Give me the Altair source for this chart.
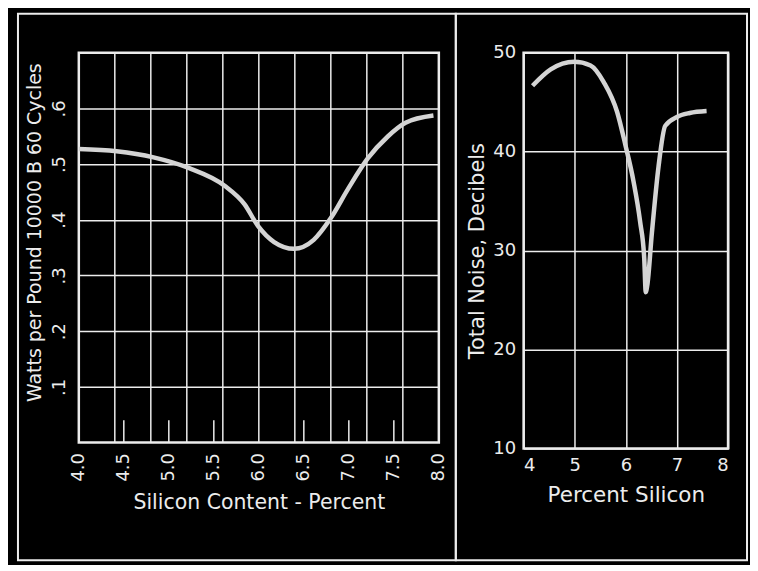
import altair as alt
import pandas as pd

# Left panel: core loss vs silicon content
loss_si = [4.0, 4.42, 4.83, 5.22, 5.62, 5.84, 5.99, 6.17, 6.39, 6.61, 6.80, 6.99, 7.21, 7.43, 7.63, 7.94]
loss_w = [0.527, 0.523, 0.512, 0.493, 0.461, 0.428, 0.389, 0.360, 0.348, 0.364, 0.403, 0.455, 0.510, 0.549, 0.574, 0.587]
left_grid_x = [4.4, 4.8, 5.2, 5.6, 6.0, 6.4, 6.8, 7.2, 7.6]
left_ticks = [4.0, 4.5, 5.0, 5.5, 6.0, 6.5, 7.0, 7.5, 8.0]
left_marks = [4.5, 5.0, 5.5, 6.5, 7.0, 7.5]
left_y_ticks = [0.1, 0.2, 0.3, 0.4, 0.5, 0.6]

# Right panel: total noise vs silicon
noise_si = [4.175, 4.53, 4.99, 5.31, 5.57, 5.83, 5.99, 6.15, 6.28, 6.36, 6.39, 6.42, 6.51, 6.64, 6.77, 7.00, 7.25, 7.58]
noise_db = [46.65, 48.3, 49.07, 48.7, 47.0, 44.0, 40.7, 37.0, 32.9, 29.2, 25.8, 26.5, 31.8, 38.5, 42.6, 43.5, 43.9, 44.1]
right_x_ticks = [4, 5, 6, 7, 8]
right_y_ticks = [10, 20, 30, 40, 50]

FONT = "DejaVu Sans"
W = "#ececec"
CURVE = "#d4d4d4"

loss_df = pd.DataFrame({"si": loss_si, "w": loss_w})
grid_df = pd.DataFrame({"g": left_grid_x})
marks_df = pd.DataFrame({"m": left_marks, "y0": [0.0] * len(left_marks), "y1": [0.04] * len(left_marks)})
one = pd.DataFrame({"a": [0]})

xs_l = alt.Scale(domain=[4.0, 8.0], nice=False, zero=False)
ys_l = alt.Scale(domain=[0, 0.7], nice=False)

xl = alt.X("si:Q", scale=xs_l,
           axis=alt.Axis(values=left_ticks, format=".1f", labelAngle=270, labelAlign="right",
                         labelBaseline="middle", labelPadding=10, grid=False, ticks=False, domain=False,
                         title="Silicon Content - Percent", titlePadding=11, labelFontSize=18, titleFontSize=20.5))
yl = alt.Y("w:Q", scale=ys_l,
           axis=alt.Axis(values=left_y_ticks, labelExpr="replace(format(datum.value,'.1f'),'0.','.')",
                         labelAngle=270, labelAlign="center", labelBaseline="bottom",
                         grid=True, gridColor=W, gridWidth=1.5, gridOpacity=1, ticks=False, domain=False,
                         title="Watts per Pound  10000 B  60 Cycles", titlePadding=6, titleY=180,
                         labelFontSize=18, titleFontSize=19, labelPadding=10))

left_frame = alt.Chart(one).mark_rect(fill="black", fillOpacity=0, stroke=W, strokeWidth=2).encode(
    x=alt.value(-61), x2=alt.value(378), y=alt.value(-39), y2=alt.value(509))
left_grid = alt.Chart(grid_df).mark_rule(color=W, strokeWidth=1.5).encode(x=alt.X("g:Q", scale=xs_l))
left_marks_l = alt.Chart(marks_df).mark_rule(color=W, strokeWidth=1.5).encode(
    x=alt.X("m:Q", scale=xs_l), y=alt.Y("y0:Q", scale=ys_l), y2="y1:Q")
left_curve = alt.Chart(loss_df).mark_line(color=CURVE, strokeWidth=4.5, interpolate="monotone").encode(x=xl, y=yl)

left = alt.layer(left_frame, left_grid, left_marks_l, left_curve).properties(width=361, height=391)

noise_df = pd.DataFrame({"si": noise_si, "db": noise_db})
xr = alt.X("si:Q", scale=alt.Scale(domain=[4, 8], nice=False, zero=False),
           axis=alt.Axis(values=right_x_ticks, format="d", grid=True, gridColor=W, gridWidth=1.5, gridOpacity=1,
                         ticks=False, domain=False, title="Percent Silicon", titlePadding=10,
                         labelFontSize=18, titleFontSize=21.5, labelPadding=8))
yr = alt.Y("db:Q", scale=alt.Scale(domain=[10, 50], nice=False),
           axis=alt.Axis(values=right_y_ticks, format="d", grid=True, gridColor=W, gridWidth=1.5, gridOpacity=1,
                         ticks=False, domain=False, title="Total Noise, Decibels", titlePadding=5,
                         labelFontSize=18, titleFontSize=21, labelPadding=8))
right_frame = alt.Chart(one).mark_rect(fill="black", fillOpacity=0, stroke=W, strokeWidth=2).encode(
    x=alt.value(-68), x2=alt.value(224), y=alt.value(-39), y2=alt.value(509))
right_curve = alt.Chart(noise_df).mark_line(color=CURVE, strokeWidth=4.5, interpolate="monotone").encode(
    x=xr, y=yr)
right = alt.layer(right_frame, right_curve).properties(width=205, height=397)

chart = alt.hconcat(left, right, spacing=85, bounds="flush").properties(
    background="black",
    padding={"left": 7, "top": 2, "right": 0, "bottom": 1},
).configure_view(stroke=W, strokeWidth=2.5).configure_axis(
    labelColor=W, titleColor=W, labelFont=FONT, titleFont=FONT, titleFontWeight="normal"
)

chart.save("out.html", embed_options={"renderer": "svg", "actions": False})
